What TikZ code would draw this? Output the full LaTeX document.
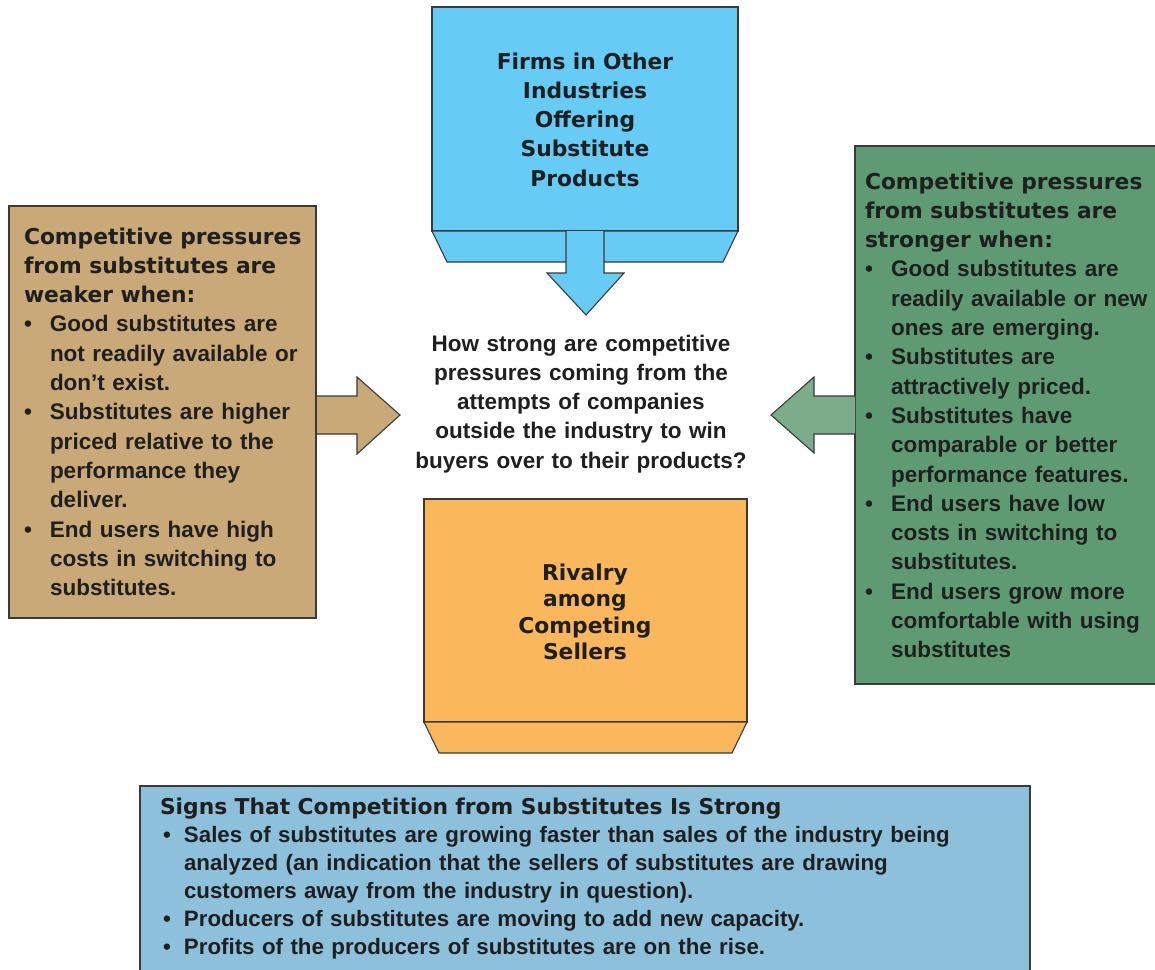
\documentclass[tikz,border=0pt]{standalone}
\usepackage{fontspec}
\setmainfont{Liberation Sans}
\newfontfamily\heavy{DejaVu Sans}[BoldFont={DejaVu Sans Bold}]
\definecolor{blueC}{HTML}{66CCF5}
\definecolor{tanC}{HTML}{C8A977}
\definecolor{greenC}{HTML}{5E9B72}
\definecolor{greenA}{HTML}{7BAD8B}
\definecolor{orangeC}{HTML}{FAB75C}
\definecolor{skyC}{HTML}{8DC0DA}
\definecolor{lineC}{HTML}{3A3A3A}
\newcommand\bodyfont{\fontsize{22.5}{29.3}\bfseries\selectfont}
\newcommand\hv{\heavy\bfseries\fontsize{21.8}{29.3}\selectfont}
\newcommand\nl{\unskip\hfil\break}
\newcommand\bul[2]{\par\hangindent=#1\hangafter=1\noindent\makebox[#1][l]{\textbullet}#2}
\newcommand\bulb[1]{\par\hangindent=24pt\hangafter=1\noindent\makebox[24pt][l]{\hspace{3pt}\textbullet}#1}
\tikzset{
  shapeline/.style={draw=lineC, line width=1.1pt, line join=miter},
  txt/.style={inner sep=0pt, outer sep=0pt, text=black!88},
}
\begin{document}
\begin{tikzpicture}[x=1pt,y=-1pt]
\useasboundingbox[fill=white] (0,0) rectangle (1155,969);

% ---- top blue box (firms in other industries)
\draw[shapeline, fill=blueC] (432,7) rectangle (738,231);
\draw[shapeline, fill=blueC] (432,231) -- (738,231) -- (723,262) -- (447,262) -- cycle;
\draw[shapeline, fill=blueC] (566,231) -- (566,273) -- (547,273) -- (586,315) -- (624,273) -- (604,273) -- (604,231);
\node[txt, anchor=base, text width=300pt, align=center, font=\hv] (firms) at (585,69)
  {Firms in Other\\Industries\\Offering\\Substitute\\Products};

% ---- left tan box
\draw[shapeline, fill=tanC] (316,396) -- (357,396) -- (357,377) -- (400,415) -- (357,454) -- (357,434) -- (316,434);
\draw[shapeline, fill=tanC] (9,206) rectangle (316,618);
\node[txt, anchor=base west, text width=300pt, align=left, font=\bodyfont] (weak) at (24,244)
  {\parskip=0pt{\hv Competitive pressures\\from substitutes are\\weaker when:\par}%
   \bul{26pt}{Good substitutes are\nl not readily available or\nl don’t exist.}%
   \bul{26pt}{Substitutes are higher\nl priced relative to the\nl performance they\nl deliver.}%
   \bul{26pt}{End users have high\nl costs in switching to\nl substitutes.}\par};

% ---- right green box
\draw[shapeline, fill=greenC] (855,146) rectangle (1160,684);
\draw[shapeline, fill=greenA] (855,396) -- (814,396) -- (814,377) -- (771,415) -- (814,453) -- (814,434) -- (855,434);
\node[txt, anchor=base west, text width=300pt, align=left, font=\bodyfont] (strong) at (865,189)
  {\parskip=0pt{\hv Competitive pressures\\from substitutes are\\stronger when:\par}%
   \bul{26pt}{Good substitutes are\nl readily available or new\nl ones are emerging.}%
   \bul{26pt}{Substitutes are\nl attractively priced.}%
   \bul{26pt}{Substitutes have\nl comparable or better\nl performance features.}%
   \bul{26pt}{End users have low\nl costs in switching to\nl substitutes.}%
   \bul{26pt}{End users grow more\nl comfortable with using\nl substitutes}\par};

% ---- center question
\node[txt, anchor=base, text width=360pt, align=center, font=\bodyfont] (question) at (581,351)
  {How strong are competitive\\pressures coming from the\\attempts of companies\\outside the industry to win\\buyers over to their products?};

% ---- orange box (rivalry)
\draw[shapeline, fill=orangeC] (424,499) rectangle (747,722);
\draw[shapeline, fill=orangeC] (424,722) -- (747,722) -- (732,753) -- (439,753) -- cycle;
\node[txt, anchor=base, text width=300pt, align=center, font={\heavy\bfseries\fontsize{21.8}{26.6}\selectfont}] (rivalry) at (585,580)
  {Rivalry\\among\\Competing\\Sellers};

% ---- bottom signs box
\draw[shapeline, fill=skyC] (140,786) rectangle (1030,990);
\node[txt, anchor=base west, text width=880pt, align=left, font={\fontsize{22.3}{28}\bfseries\selectfont}] (signs) at (160,814)
  {\parskip=0pt{\hv\fontsize{21.8}{28}\selectfont Signs That Competition from Substitutes Is Strong\par}%
   \bulb{Sales of substitutes are growing faster than sales of the industry being\nl analyzed (an indication that the sellers of substitutes are drawing\nl customers away from the industry in question).}%
   \bulb{Producers of substitutes are moving to add new capacity.}%
   \bulb{Profits of the producers of substitutes are on the rise.}\par};
\end{tikzpicture}
\end{document}
